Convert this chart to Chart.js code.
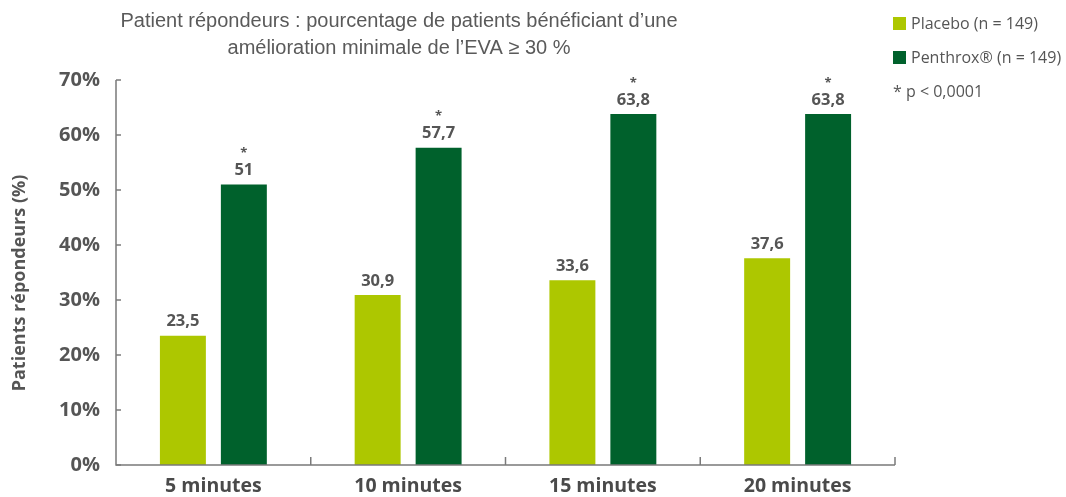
<!DOCTYPE html>
<html>
<head>
<meta charset="utf-8">
<script src="https://cdn.jsdelivr.net/npm/chart.js@4.4.0/dist/chart.umd.min.js"></script>
<style>
  html, body { margin: 0; padding: 0; background: #fff; }
  #wrap { width: 1066px; height: 497px; position: relative; }
</style>
</head>
<body>
<div id="wrap"><canvas id="c" width="1066" height="497"></canvas></div>
<script>
const categories = ['5 minutes', '10 minutes', '15 minutes', '20 minutes'];
const placeboValues = [23.5, 30.9, 33.6, 37.6];
const penthroxValues = [51, 57.7, 63.8, 63.8];
const penthroxSignificant = [true, true, true, true];
const seriesNames = ['Placebo (n = 149)', 'Penthrox\u00AE (n = 149)'];
const footnote = '* p < 0,0001';
const titleLines = ['Patient r\u00E9pondeurs : pourcentage de patients b\u00E9n\u00E9ficiant d\u2019une', 'am\u00E9lioration minimale de l\u2019EVA \u2265 30 %'];
const yAxisTitle = 'Patients r\u00E9pondeurs (%)';
const yTicks = [0, 10, 20, 30, 40, 50, 60, 70];

const LIME = '#ADC700';
const DARK = '#00612C';
const TEXT = '#555555';
const AXIS = '#7a7a7a';

const fmt = v => String(v).replace('.', ',');

const decor = {
  id: 'decor',
  afterDraw(chart) {
    const ctx = chart.ctx;
    const x = chart.scales.x, y = chart.scales.y;
    const area = chart.chartArea;
    ctx.save();
    // axis lines
    ctx.strokeStyle = AXIS;
    ctx.lineWidth = 1.5;
    ctx.beginPath();
    ctx.moveTo(area.left, area.top);
    ctx.lineTo(area.left, area.bottom);
    ctx.lineTo(area.right, area.bottom);
    ctx.stroke();
    // y ticks inward
    yTicks.forEach(t => {
      const py = y.getPixelForValue(t);
      ctx.beginPath();
      ctx.moveTo(area.left, py);
      ctx.lineTo(area.left + 5, py);
      ctx.stroke();
    });
    // x boundary ticks
    const half = (x.getPixelForValue(1) - x.getPixelForValue(0)) / 2;
    for (let i = 0; i < categories.length; i++) {
      const bx = x.getPixelForValue(i) + half;
      ctx.beginPath();
      ctx.moveTo(bx, area.bottom);
      ctx.lineTo(bx, area.bottom - 8);
      ctx.stroke();
    }
    // value labels
    ctx.fillStyle = TEXT;
    ctx.textAlign = 'center';
    ctx.textBaseline = 'middle';
    chart.data.datasets.forEach((ds, di) => {
      const meta = chart.getDatasetMeta(di);
      meta.data.forEach((bar, i) => {
        ctx.font = 'bold 16.5px "Open Sans", sans-serif';
        ctx.fillText(fmt(ds.data[i]), bar.x, bar.y - 14);
        if (di === 1 && penthroxSignificant[i]) {
          ctx.font = 'bold 13px "Open Sans", sans-serif';
          ctx.fillText('*', bar.x, bar.y - 31);
        }
      });
    });
    // title
    ctx.font = '20px "Liberation Sans", Arial, sans-serif';
    ctx.fillStyle = '#5a5a5a';
    ctx.fillText(titleLines[0], 399, 21);
    ctx.fillText(titleLines[1], 399, 48);
    // y axis title
    ctx.save();
    ctx.translate(20, 283);
    ctx.rotate(-Math.PI / 2);
    ctx.font = 'bold 18px "Open Sans", sans-serif';
    ctx.fillStyle = TEXT;
    ctx.fillText(yAxisTitle, 0, 0);
    ctx.restore();
    // legend
    const lx = 893;
    const rows = [[LIME, seriesNames[0], 23], [DARK, seriesNames[1], 57]];
    ctx.textAlign = 'left';
    ctx.font = '16px "Open Sans", sans-serif';
    rows.forEach(([c, label, cy]) => {
      ctx.fillStyle = c;
      ctx.fillRect(lx, cy - 6, 13, 13);
      ctx.fillStyle = TEXT;
      ctx.fillText(label, lx + 18, cy + 1);
    });
    ctx.fillText(footnote, lx, 92);
    ctx.restore();
  }
};

new Chart(document.getElementById('c'), {
  type: 'bar',
  data: {
    labels: categories,
    datasets: [
      { label: seriesNames[0], data: placeboValues, backgroundColor: LIME, borderWidth: 0,
        categoryPercentage: 0.626, barPercentage: 0.754 },
      { label: seriesNames[1], data: penthroxValues, backgroundColor: DARK, borderWidth: 0,
        categoryPercentage: 0.626, barPercentage: 0.754 }
    ]
  },
  options: {
    responsive: false,
    animation: false,
    layout: { padding: { left: 0, top: 80, right: 171, bottom: 0 } },
    plugins: { legend: { display: false }, title: { display: false }, tooltip: { enabled: false } },
    scales: {
      x: {
        grid: { display: false, drawTicks: false },
        border: { display: false },
        ticks: { color: '#4a4a4a', font: { family: '"Open Sans", sans-serif', size: 19.5, weight: 'bold' }, padding: 10 },
        afterFit(s) { s.height = 32; }
      },
      y: {
        min: 0, max: 70,
        afterBuildTicks(s) { s.ticks = yTicks.map(v => ({ value: v })); },
        grid: { display: false, drawTicks: false },
        border: { display: false },
        ticks: { color: TEXT, font: { family: '"Open Sans", sans-serif', size: 20, weight: 'bold' }, padding: 16,
          callback: v => v + '%' },
        afterFit(s) { s.width = 116; }
      }
    }
  },
  plugins: [decor]
});
</script>
</body>
</html>
